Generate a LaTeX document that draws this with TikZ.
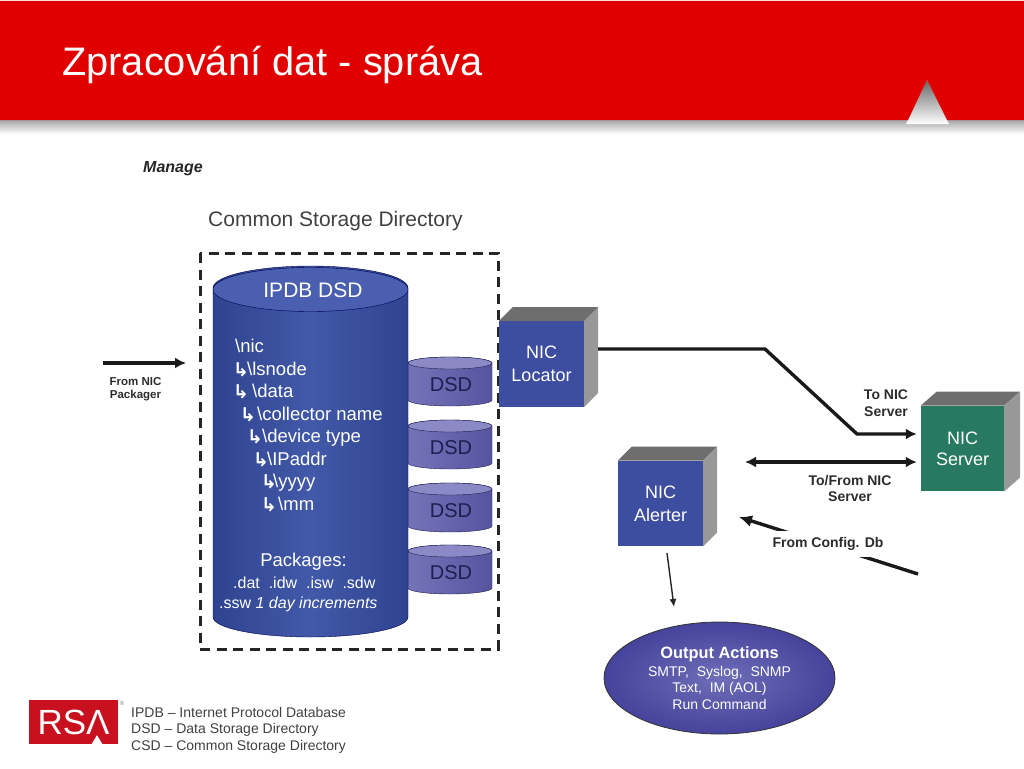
\documentclass[tikz,border=0pt]{standalone}
\usepackage{fontspec}
\setmainfont{Liberation Sans}
\newfontfamily\arrowfont{DejaVu Sans}
\usetikzlibrary{arrows.meta,calc,shapes.geometric}
\definecolor{rsared}{HTML}{E00000}
\definecolor{logored}{HTML}{C8101E}
\definecolor{nicblue}{HTML}{3D4DA0}
\definecolor{nicgreen}{HTML}{27795F}
\definecolor{cubetop}{HTML}{6E6E6E}
\definecolor{cubeside}{HTML}{989898}
\definecolor{ipdbdark}{HTML}{2F4490}
\definecolor{ipdbmid}{HTML}{4259A9}
\definecolor{ipdbtop}{HTML}{4A5FB0}
\definecolor{dsddark}{HTML}{56549F}
\definecolor{dsdmid}{HTML}{7573B8}
\definecolor{dsdtop}{HTML}{8C8AC6}
\definecolor{dsdtext}{HTML}{1E1E50}
\definecolor{labelgray}{HTML}{2C2C2C}
\definecolor{ovalouter}{HTML}{45439B}
\definecolor{ovalinner}{HTML}{6E6EB8}
\newcommand{\fsize}[1]{\fontsize{#1}{#1}\selectfont}
\newcommand{\branch}[1]{\makebox[#1][l]{\arrowfont\bfseries\fsize{19}\raisebox{-1pt}{↳}}}
\tikzset{
  cube/.style={shape=rectangle,minimum width=85pt,minimum height=85.5pt,inner sep=0pt,
    align=center,text=white,font=\fsize{18},fill=nicblue},
  tree/.style={anchor=base west,inner sep=0pt,text=white,font=\fsize{18.5}},
  pack/.style={anchor=base west,inner sep=0pt,text=white,font=\fsize{16}},
  blacklabel/.style={inner sep=0pt,align=center,text=labelgray,font=\bfseries\fsize{14}},
  legend/.style={anchor=base west,inner sep=0pt,text=black!75,font=\fsize{14}},
  link/.style={line width=3.4pt,black!90},
}
\begin{document}
\begin{tikzpicture}[x=1pt,y=-1pt]
\useasboundingbox (0,0) rectangle (1024,768);
% title band
\shade[top color=black!35,bottom color=white] (0,120) rectangle (1024,134);
\shade[top color=black!60,bottom color=white] (927,80) -- (949,124) -- (906,124) -- cycle;
\fill[rsared] (0,1) -- (1024,1) -- (1024,120) -- (947,120) -- (927,80) -- (908,120) -- (0,120) -- cycle;
\node (title) [anchor=base west,inner sep=0pt,text=white,font=\fsize{39.8}] at (62,75) {Zpracování dat - správa};
\node (manage) [anchor=base west,inner sep=0pt,text=black!85,font=\bfseries\itshape\fsize{16}] at (143,172) {Manage};
\node (csd) [anchor=base west,inner sep=0pt,text=black!75,font=\fsize{21}] at (208,226) {Common Storage Directory};
\draw[line width=3pt,black!85,dash pattern=on 10pt off 6.5pt] (200,253) rectangle (498,649);
% small disks, behind the big one
\foreach \n/\y in {A/357,B/420,C/483,D/545}{
  \draw[dsdtext,thin,left color=dsdmid,right color=dsddark]
    (408,\y+6) -- (408,\y+43) arc[start angle=180,end angle=360,x radius=42pt,y radius=6pt]
    -- (492,\y+6) arc[start angle=0,end angle=180,x radius=42pt,y radius=6pt] -- cycle;
  \draw[dsdtext,thin,fill=dsdtop] (450,\y+6) ellipse[x radius=42pt,y radius=6pt];
  \node (dsd\n) [inner sep=0pt,text=dsdtext,font=\fsize{20}] at (451,\y+28) {DSD};
}
% big disk
\draw[black!70!blue,thin,left color=ipdbdark,right color=ipdbdark,middle color=ipdbmid]
  (213,288) -- (213,617) arc[start angle=180,end angle=360,x radius=97.5pt,y radius=20pt]
  -- (408,288) arc[start angle=0,end angle=180,x radius=97.5pt,y radius=22pt] -- cycle;
\draw[black!70!blue,thin,fill=ipdbtop] (310.5,289.5) ellipse[x radius=97.5pt,y radius=22pt];
\node (ipdb) [inner sep=0pt,text=white,font=\fsize{21}] at (313,290) {IPDB DSD};
\node (nic) [tree] at (235,352) {\textbackslash nic};
\node (lsnode) [tree] at (233,375) {\branch{14pt}\textbackslash lsnode};
\node (data) [tree] at (233,397) {\branch{19pt}\textbackslash data};
\node (collector) [tree] at (240,420) {\branch{17pt}\textbackslash collector name};
\node (device) [tree] at (247,442) {\branch{15pt}\textbackslash device type};
\node (ipaddr) [tree] at (253,465) {\branch{14pt}\textbackslash IPaddr};
\node (yyyy) [tree] at (261,487) {\branch{12pt}\textbackslash yyyy};
\node (mm) [tree] at (261,510) {\branch{17pt}\textbackslash mm};
\node (packages) [inner sep=0pt,text=white,font=\fsize{18.5}] at (303.5,562) {Packages:};
\node (types) [pack] at (233,588) {.dat\ \ .idw\ \ .isw\ \ .sdw};
\node (ssw) [pack] at (219,608) {.ssw \textit{1 day increments}};
% cubes
\node (locator) [cube] at (541.5,364) {NIC\\[5pt]Locator};
\node (alerter) [cube] at (660.5,503.5) {NIC\\[5pt]Alerter};
\node (server) [cube,fill=nicgreen,minimum width=83pt] at (962.5,448.5) {NIC\\[3pt]Server};
\foreach \b/\d in {locator/14,alerter/14,server/16}{
  \fill[cubetop] (\b.north west) -- ++(\d,-14) -- ($(\b.north east)+(\d,-14)$) -- (\b.north east) -- cycle;
  \fill[cubeside] (\b.north east) -- ++(\d,-14) -- ($(\b.south east)+(\d,-14)$) -- (\b.south east) -- cycle;
}
% links
\coordinate (locatorout) at (598,349);
\coordinate (bendA) at (765,349);
\coordinate (bendB) at (857,434);
\coordinate (alerterport) at (745,462);
\coordinate (configend) at (918,574);
\coordinate (configtip) at (739,517);
\coordinate (alerterout) at (667,553);
\coordinate (outputin) at (674,607);
\coordinate (packagerin) at (103,363);
\coordinate (packagertip) at (186,363);
\draw[link,-{Latex[length=11pt,width=11pt]},shorten >=4pt] (locatorout) -- (bendA) -- (bendB) -- (bendB -| server.west);
\draw[link,{Latex[length=11pt,width=11pt]}-{Latex[length=11pt,width=11pt]},shorten >=4pt] (alerterport) -- (alerterport -| server.west);
\draw[link,-{Latex[length=13pt,width=12pt]}] (configend) -- (configtip);
\draw[link,-{Latex[length=11pt,width=11pt]}] (packagerin) -- (packagertip);
\draw[black!85,line width=1.4pt,-{Latex[length=8pt,width=7pt]}] (alerterout) -- (outputin);
\node (config) [blacklabel,fill=white,minimum width=114pt,minimum height=26pt] at (828,544) {From Config. Db};
\node (packager) [blacklabel,font=\bfseries\fsize{11.5}] at (135.5,389) {From NIC\\[2pt]Packager};
\node (toserver) [blacklabel] at (886,403.5) {To NIC\\[3pt]Server};
\node (tofrom) [blacklabel] at (850,488) {To/From NIC\\[2pt]Server};
% output actions
\node (output) [shape=ellipse,draw=black!80,thick,inner color=ovalinner,outer color=ovalouter,minimum width=231pt,minimum height=112pt,inner sep=0pt,align=center,text=white,font=\fsize{14}] at (719.5,678) {{\bfseries\fsize{16.4}Output Actions}\\[4pt]SMTP,\ \ Syslog,\ \ SNMP\\[2.5pt]Text,\ \ IM (AOL)\\[3pt]Run Command};
% logo and legend
\node (logo) [shape=rectangle,fill=logored,minimum width=89pt,minimum height=44pt,inner sep=0pt,text=white,font=\fsize{35}] at (73.5,722) {RSΛ};
\fill[white] (logo.south) ++(29,0) -- ++(-5.5,-9) -- ++(-5.5,9) -- cycle;
\node (reg) [inner sep=0pt,text=black!50,font=\fsize{6}] at (122,703) {®};
\node (legA) [legend] at (131,717) {IPDB – Internet Protocol Database};
\node (legB) [legend] at (131,733) {DSD – Data Storage Directory};
\node (legC) [legend] at (131,750) {CSD – Common Storage Directory};
\end{tikzpicture}
\end{document}
